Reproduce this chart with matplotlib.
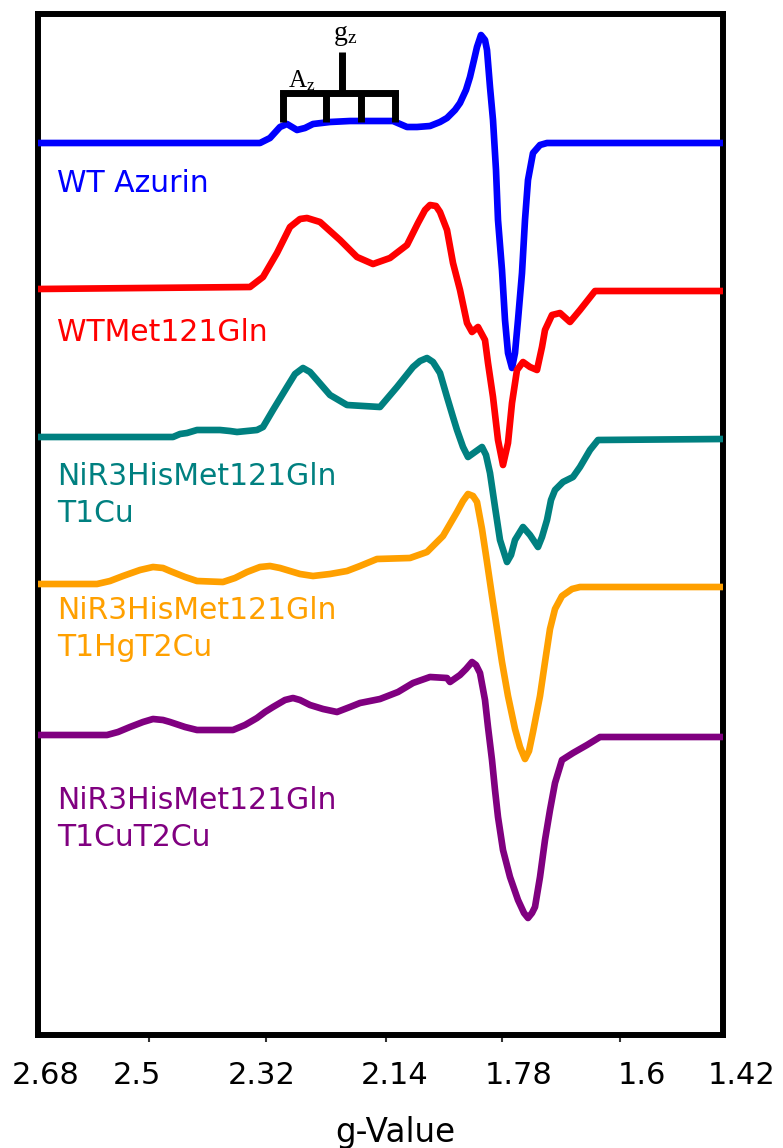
import matplotlib
matplotlib.use("Agg")
import matplotlib.pyplot as plt

# ---- EPR spectra: field position (sweep units) and first-derivative signal ----
blue_x = [0, 62, 162, 222, 232, 242, 249, 259, 267, 275, 292, 312, 355, 362, 369,
          379, 392, 402, 409, 417, 422, 428, 432, 436, 439, 443, 447, 449, 452, 455,
          458, 460, 464, 467, 470, 474, 477, 480, 484, 487, 490, 495, 502, 509, 685]
blue_y = [0, 0, 0, 0, 5, 16, 19, 13, 15, 19, 21, 22, 22, 19, 16,
          16, 17, 21, 25, 33, 40, 53, 66, 83, 96, 108, 103, 93, 56, 23,
          -27, -77, -127, -177, -210, -225, -210, -177, -130, -77, -37, -10, -2, 0, 0]

red_x = [0, 212, 225, 239, 252, 262, 269, 282, 302, 319, 335, 352, 369, 380, 387,
         392, 398, 402, 409, 415, 422, 429, 434, 440, 447, 450, 455, 460, 465, 470,
         474, 479, 485, 492, 499, 504, 507, 514, 522, 532, 542, 557, 685]
red_y = [1, 3, 13, 37, 63, 71, 72, 68, 50, 33, 26, 32, 45, 67, 80,
         85, 84, 78, 60, 27, 0, -33, -42, -37, -50, -73, -107, -150, -175, -153,
         -113, -80, -72, -77, -80, -57, -40, -25, -23, -32, -20, -1, -1]

teal_x = [0, 135, 142, 149, 159, 182, 192, 199, 219, 225, 235, 249, 257, 265, 272,
          279, 292, 309, 342, 359, 375, 382, 389, 395, 402, 409, 415, 419, 425, 430,
          437, 444, 448, 452, 457, 462, 469, 473, 477, 485, 492, 500, 504, 509, 513,
          517, 525, 535, 542, 552, 560, 685]
teal_y = [1, 1, 4, 5, 8, 8, 7, 6, 8, 11, 28, 51, 64, 70, 66,
          58, 43, 33, 31, 51, 71, 77, 80, 76, 65, 41, 21, 8, -9, -19,
          -14, -9, -17, -35, -69, -102, -124, -117, -102, -89, -97, -109, -99, -82, -62,
          -52, -44, -39, -29, -12, -2, -1]

orange_x = [0, 59, 72, 85, 102, 115, 125, 132, 147, 159, 185, 197, 209, 222, 232,
            242, 252, 262, 275, 292, 309, 322, 339, 372, 389, 405, 419, 425, 430, 435,
            439, 444, 449, 454, 459, 464, 470, 477, 482, 487, 491, 495, 502, 507, 512,
            517, 524, 534, 542, 685]
orange_y = [2, 2, 5, 10, 16, 19, 18, 15, 9, 5, 4, 8, 14, 19, 20,
            18, 15, 12, 10, 12, 15, 20, 27, 28, 34, 50, 74, 85, 92, 90,
            84, 57, 24, -10, -43, -76, -110, -143, -161, -173, -165, -146, -110, -76, -43,
            -23, -10, -3, -1, -1]

purple_x = [0, 69, 80, 92, 105, 115, 125, 132, 147, 159, 195, 207, 219, 227, 235,
            247, 255, 262, 272, 285, 299, 312, 322, 342, 360, 375, 392, 409, 412, 422,
            428, 434, 438, 442, 447, 450, 454, 457, 460, 465, 472, 480, 486, 490, 494,
            497, 502, 507, 512, 517, 524, 535, 549, 562, 685]
purple_y = [1, 1, 4, 9, 14, 17, 16, 14, 9, 6, 6, 11, 18, 24, 29,
            36, 38, 36, 31, 27, 24, 29, 33, 37, 44, 53, 59, 58, 54, 61,
            67, 74, 71, 63, 36, 9, -24, -54, -81, -114, -141, -164, -177, -182, -177,
            -171, -141, -104, -74, -47, -24, -17, -9, -1, -1]

series_names = ["WT Azurin", "WTMet121Gln", "NiR3HisMet121Gln\nT1Cu",
                "NiR3HisMet121Gln\nT1HgT2Cu", "NiR3HisMet121Gln\nT1CuT2Cu"]
series_colors = ["#0000FF", "#FF0000", "#008080", "#FFA000", "#800080"]
series_offsets = [892, 745, 597, 449, 299]
# baseline height of the first text line of each name
label_y = [843, 694, 550, 416, 226]

# Axis labels (g-values) and their positions along the sweep
g_labels = ["2.68", "2.5", "2.32", "2.14", "1.78", "1.6", "1.42"]
g_label_pos = [8, 99, 224, 357, 481, 604, 704]
tick_pos = [111, 228, 348, 464, 582]

# Hyperfine stick diagram (A_z quartet around g_z)
az_lines = [245, 288, 323, 357]
gz_line = 304

fig = plt.figure(figsize=(7.83, 11.48), dpi=100)
ax = fig.add_axes([38 / 783, 1 - 1035 / 1148, 685 / 783, 1021 / 1148])
ax.set_xlim(0, 685)
ax.set_ylim(0, 1021)

traces = [(blue_x, blue_y), (red_x, red_y), (teal_x, teal_y),
          (orange_x, orange_y), (purple_x, purple_y)]
for (xs, ys), off, col in zip(traces, series_offsets, series_colors):
    ax.plot(xs, [off + v for v in ys], color=col, lw=4.8,
            solid_joinstyle="round", solid_capstyle="butt", zorder=3)

line_step = 37  # distance between stacked name lines
for name, col, ly in zip(series_names, series_colors, label_y):
    for k, part in enumerate(name.split("\n")):
        ax.text(19, ly - k * line_step, part, color=col, fontsize=21.5,
                family="DejaVu Sans", va="baseline", ha="left")

# stick diagram
bar_y = 942.5
ax.plot([az_lines[0], az_lines[-1]], [bar_y, bar_y], color="black", lw=5,
        solid_capstyle="projecting", zorder=4)
for xl in az_lines:
    ax.plot([xl, xl], [bar_y, 913], color="black", lw=5, solid_capstyle="butt", zorder=4)
ax.plot([gz_line, gz_line], [bar_y, 983], color="black", lw=5, solid_capstyle="butt", zorder=4)
ax.text(295, 995, r"$\mathregular{g_z}$", fontsize=20, family="Liberation Serif",
        va="baseline", ha="left")
ax.text(250, 948, r"$\mathregular{A_z}$", fontsize=18, family="Liberation Serif",
        va="baseline", ha="left")

# frame and ticks
for sp in ax.spines.values():
    sp.set_linewidth(4.3)
    sp.set_color("black")
ax.set_yticks([])
ax.set_xticks(tick_pos)
ax.set_xticklabels([])
ax.tick_params(axis="x", direction="out", length=5, width=1.5, color="#333333")

for lab, xp in zip(g_labels, g_label_pos):
    ax.annotate(lab, xy=(xp, 0), xycoords=("data", "axes fraction"),
                xytext=(0, -35.3), textcoords="offset points",
                ha="center", va="baseline", fontsize=22, family="DejaVu Sans",
                annotation_clip=False)

ax.annotate("g-Value", xy=(357, 0), xycoords=("data", "axes fraction"),
            xytext=(0, -77), textcoords="offset points",
            ha="center", va="baseline", fontsize=23.5, family="DejaVu Sans",
            annotation_clip=False)

fig.savefig("out.png", dpi=100)
